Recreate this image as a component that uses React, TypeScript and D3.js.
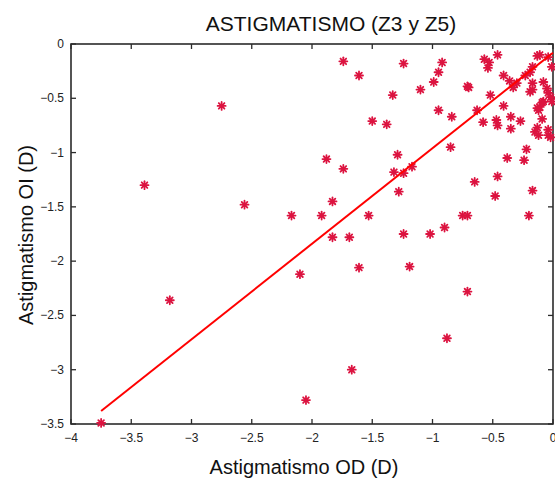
import React from "react";
import * as d3 from "d3";

const odValues = [
  -3.75, -3.39, -3.18, -2.75, -2.56, -2.17, -2.10, -2.05, -1.92, -1.88, -1.83, -1.83, -1.74, -1.74,
  -1.69, -1.67, -1.61, -1.61, -1.53, -1.50,
  -1.24, -0.92, -0.95, -0.99, -1.33, -1.10, -0.57, -0.46, -0.53, -0.54, -0.71, -0.70, -0.52, -0.95,
  -0.84, -1.38, -0.63, -0.41, -0.58, -0.47, -0.46, -0.35, -0.27, -0.35, -0.85, -1.29, -0.22, -0.13,
  -0.11, -0.04, -0.01, -0.17, -0.19, -0.41, -0.36, -0.30, -0.23, -0.33, -0.17, -0.17, -0.19, -0.08,
  -0.05, -0.04, -0.02, -0.01, -0.09, -0.08, -0.13, -0.12, -0.11, -0.09, -0.13, -0.15, -0.12, -0.04,
  -0.04, -0.02, -0.38, -0.24,
  -1.32, -1.24, -1.17, -1.28, -0.65, -0.46, -0.48, -0.17, -0.75, -0.71, -0.20, -1.24, -1.02, -0.90,
  -1.19, -0.71, -0.88,
];
const oiValues = [
  -3.49, -1.30, -2.36, -0.57, -1.48, -1.58, -2.12, -3.28, -1.58, -1.06, -1.45, -1.78, -0.16, -1.15,
  -1.78, -3.00, -0.29, -2.06, -1.58, -0.71,
  -0.18, -0.17, -0.26, -0.35, -0.47, -0.42, -0.14, -0.10, -0.17, -0.22, -0.39, -0.40, -0.47, -0.61,
  -0.67, -0.74, -0.61, -0.57, -0.72, -0.70, -0.75, -0.67, -0.71, -0.78, -0.95, -1.02, -0.97, -0.11,
  -0.10, -0.12, -0.21, -0.21, -0.26, -0.29, -0.34, -0.36, -0.29, -0.40, -0.36, -0.42, -0.44, -0.35,
  -0.41, -0.45, -0.49, -0.53, -0.54, -0.53, -0.59, -0.61, -0.58, -0.69, -0.77, -0.81, -0.84, -0.84,
  -0.79, -0.86, -1.05, -1.07,
  -1.18, -1.19, -1.13, -1.36, -1.27, -1.22, -1.40, -1.35, -1.58, -1.58, -1.58, -1.75, -1.75, -1.69,
  -2.05, -2.28, -2.71,
];
const fitX = [-3.75, 0];
const fitY = [-3.38, -0.08];
const xTicks = [-4, -3.5, -3, -2.5, -2, -1.5, -1, -0.5, 0];
const yTicks = [0, -0.5, -1, -1.5, -2, -2.5, -3, -3.5];
const titleText = "ASTIGMATISMO (Z3 y Z5)";
const xLabel = "Astigmatismo OD (D)";
const yLabel = "Astigmatismo OI (D)";

const W = 555;
const H = 479;
const left = 71;
const right = 553;
const top = 44;
const bottom = 424;

const fmt = (v: number) => (v < 0 ? "\u2212" + String(Math.abs(v)) : String(v));

export default function App() {
  const x = d3.scaleLinear().domain([-4, 0]).range([left, right]);
  const y = d3.scaleLinear().domain([-3.5, 0]).range([bottom, top]);
  const line = d3
    .line<number>()
    .x((_, i) => x(fitX[i]))
    .y((d) => y(d));
  const axisColor = "#2b2b2b";
  const markColor = "#dc1440";
  const tl = 5;
  const r = 4;
  const font = "'Liberation Sans', Arial, Helvetica, sans-serif";
  return (
    <svg
      width={W}
      height={H}
      style={{ position: "absolute", left: 0, top: 0, background: "#fff" }}
      fontFamily={font}
    >
      <rect x={0} y={0} width={W} height={H} fill="#fff" />
      <text x={331} y={31} textAnchor="middle" fontSize={21} fill="#111">
        {titleText}
      </text>
      <rect
        x={left}
        y={top}
        width={right - left}
        height={bottom - top}
        fill="none"
        stroke={axisColor}
        strokeWidth={1.6}
      />
      {xTicks.map((t) => (
        <g key={"xt" + t}>
          <line x1={x(t)} x2={x(t)} y1={bottom} y2={bottom - tl} stroke={axisColor} strokeWidth={1.3} />
          <line x1={x(t)} x2={x(t)} y1={top} y2={top + tl} stroke={axisColor} strokeWidth={1.3} />
          <text x={x(t)} y={442} textAnchor="middle" fontSize={12} fill="#222">
            {fmt(t)}
          </text>
        </g>
      ))}
      {yTicks.map((t) => (
        <g key={"yt" + t}>
          <line x1={left} x2={left + tl} y1={y(t)} y2={y(t)} stroke={axisColor} strokeWidth={1.3} />
          <line x1={right} x2={right - tl} y1={y(t)} y2={y(t)} stroke={axisColor} strokeWidth={1.3} />
          <text x={64} y={y(t) + 4} textAnchor="end" fontSize={12} fill="#222">
            {fmt(t)}
          </text>
        </g>
      ))}
      <text x={304} y={474} textAnchor="middle" fontSize={20} fill="#111">
        {xLabel}
      </text>
      <text
        transform={`translate(33, 235) rotate(-90)`}
        textAnchor="middle"
        fontSize={20}
        fill="#111"
      >
        {yLabel}
      </text>
      <g>
        {odValues.map((v, i) => {
          const cx = x(v);
          const cy = y(oiValues[i]);
          const d = r * 0.7071;
          return (
            <g key={"p" + i} stroke={markColor} strokeWidth={1.8} strokeLinecap="round">
              <circle cx={cx} cy={cy} r={2.2} fill={markColor} stroke="none" />
              <line x1={cx - r} x2={cx + r} y1={cy} y2={cy} />
              <line x1={cx} x2={cx} y1={cy - r} y2={cy + r} />
              <line x1={cx - d} x2={cx + d} y1={cy - d} y2={cy + d} />
              <line x1={cx - d} x2={cx + d} y1={cy + d} y2={cy - d} />
            </g>
          );
        })}
      </g>
      <path d={line(fitY) || ""} fill="none" stroke="#ff0000" strokeWidth={2} />
    </svg>
  );
}
